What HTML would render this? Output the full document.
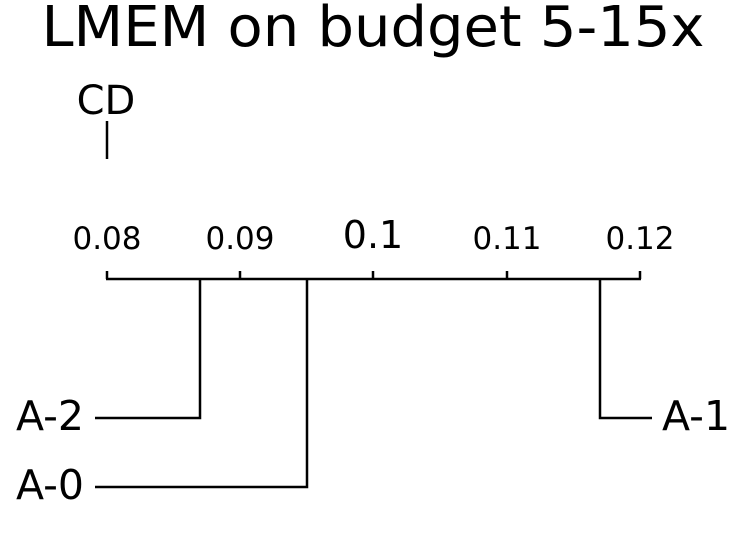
<!DOCTYPE html>
<html><head><style>body{margin:0;background:#fff}svg{display:block}</style></head>
<body>
<svg width="746" height="557" viewBox="0 0 746 557" xmlns="http://www.w3.org/2000/svg" font-family="DejaVu Sans, Liberation Sans, sans-serif" fill="#000">
<text x="373" y="46" font-size="56" text-anchor="middle" textLength="663" lengthAdjust="spacingAndGlyphs">LMEM on budget 5-15x</text>
<text x="106" y="114" font-size="40" text-anchor="middle">CD</text>
<line x1="107" y1="121" x2="107" y2="159" stroke="#000" stroke-width="2.5"/>
<g stroke="#000" stroke-width="2.5" fill="none">
<line x1="106" y1="279" x2="641" y2="279"/>
<line x1="107" y1="271" x2="107" y2="279"/>
<line x1="240" y1="271" x2="240" y2="279"/>
<line x1="373" y1="271" x2="373" y2="279"/>
<line x1="507" y1="271" x2="507" y2="279"/>
<line x1="640" y1="271" x2="640" y2="279"/>
<polyline points="95,418 200,418 200,279"/>
<polyline points="95,487 307,487 307,279"/>
<polyline points="652,418 600,418 600,279"/>
</g>
<g font-size="31" text-anchor="middle">
<text x="107" y="249">0.08</text>
<text x="240" y="249">0.09</text>
<text x="373" y="248" font-size="38">0.1</text>
<text x="507" y="249">0.11</text>
<text x="640" y="249">0.12</text>
</g>
<g font-size="41">
<text x="84" y="430" text-anchor="end">A-2</text>
<text x="84" y="499" text-anchor="end">A-0</text>
<text x="662" y="430">A-1</text>
</g>
</svg>
</body></html>
